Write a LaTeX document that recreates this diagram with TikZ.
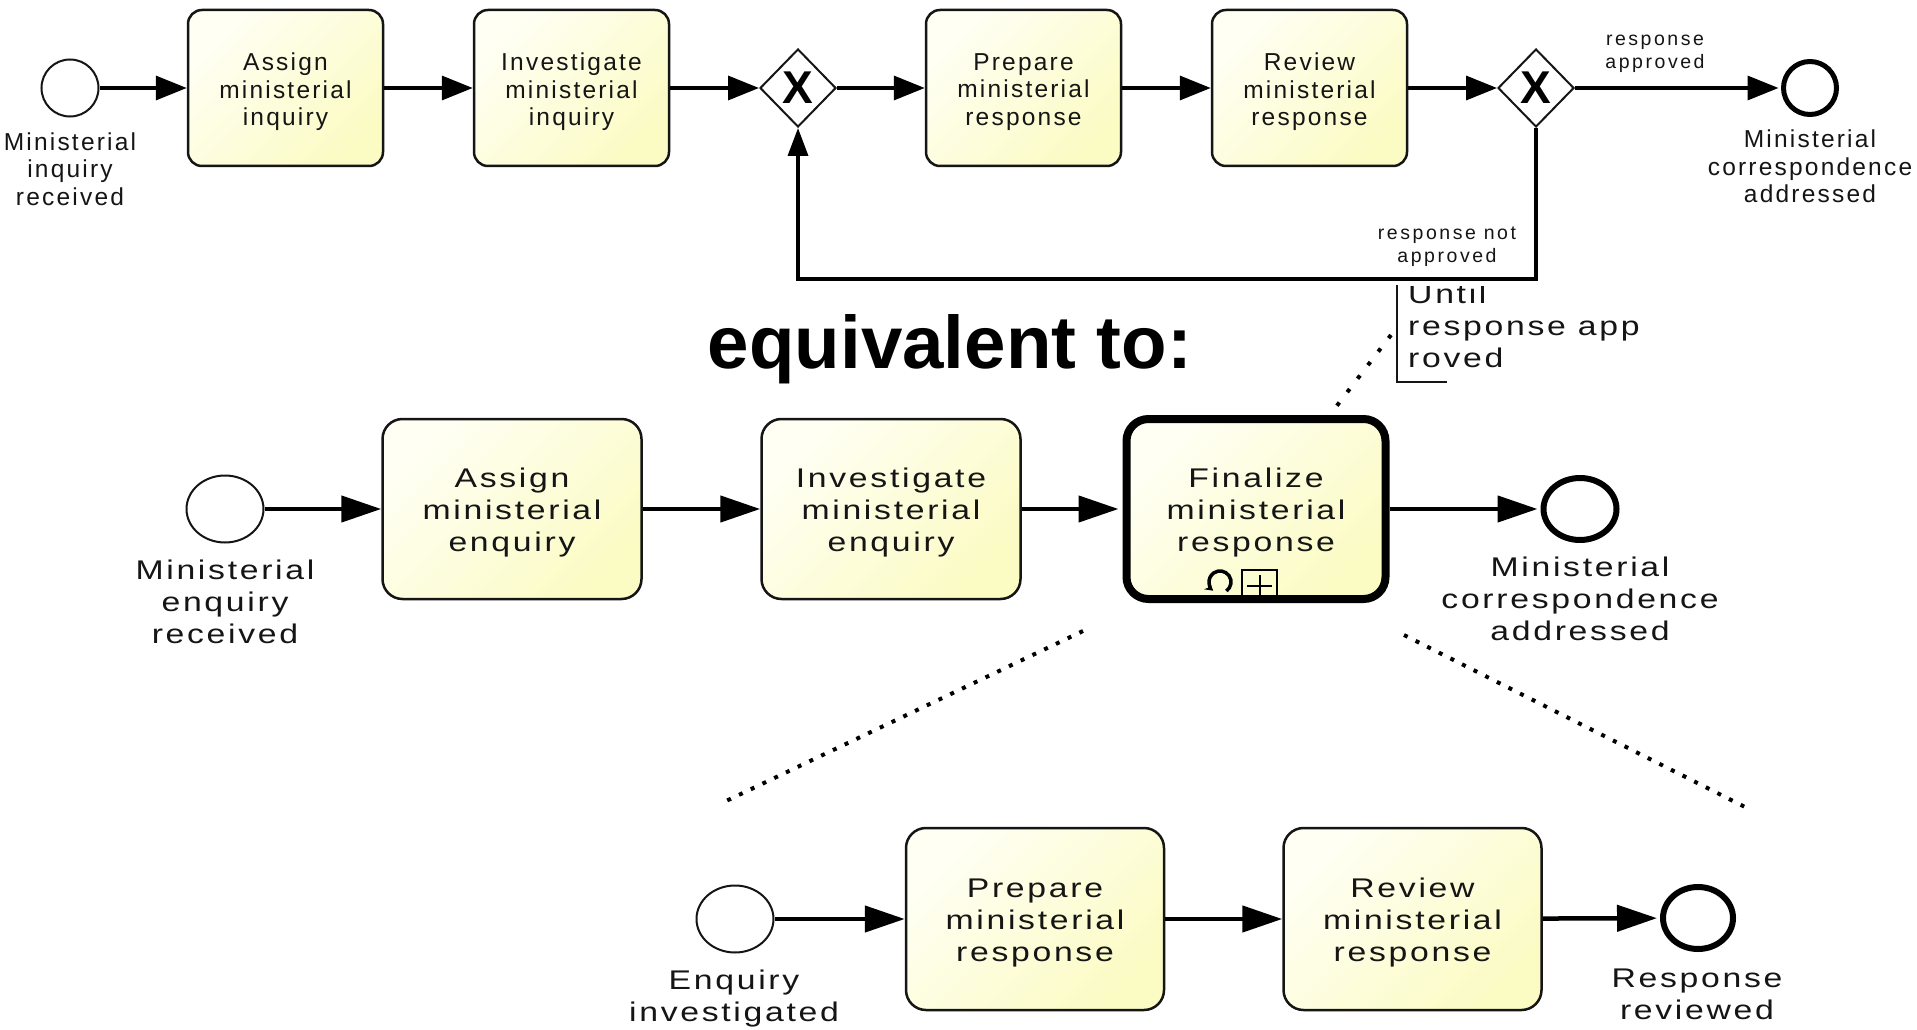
\documentclass[tikz,border=0pt]{standalone}
\usepackage{fontspec}
\setmainfont{Liberation Sans}
\newfontfamily\topfont[LetterSpace=9]{Liberation Sans}
\newfontfamily\midfont[LetterSpace=10,FakeStretch=1.25]{Liberation Sans}
\newfontfamily\smallfont[LetterSpace=13]{Liberation Sans}
\newfontfamily\eqfont{Liberation Sans}
\usetikzlibrary{arrows.meta,shapes.geometric,calc}
\definecolor{taskA}{HTML}{FFFFF4}
\definecolor{taskB}{HTML}{FBFBC4}
\definecolor{ink}{HTML}{151515}
\begin{document}
\begin{tikzpicture}[x=1pt,y=-1pt,
  task/.style={draw=ink, line width=2.5pt, rounded corners=14pt, top color=taskA, bottom color=taskB, shading angle=45, inner sep=0pt},
  toptask/.style={task, minimum width=195pt, minimum height=156pt},
  midtask/.style={task, rounded corners=20pt, minimum width=259pt, minimum height=180pt},
  gateway/.style={diamond, aspect=1, draw=ink, line width=2pt, fill=white, minimum width=76pt, minimum height=78pt, inner sep=0pt, text=black, font=\eqfont\bfseries\fontsize{46pt}{46pt}\selectfont},
  startev/.style={circle, draw=ink, line width=2pt, fill=white, minimum size=57pt, inner sep=0pt},
  endev/.style={circle, draw=black, line width=5pt, fill=white, minimum size=53pt, inner sep=0pt},
  mstart/.style={ellipse, draw=ink, line width=2pt, fill=white, minimum width=77pt, minimum height=67pt, inner sep=0pt},
  mend/.style={ellipse, draw=black, line width=6pt, fill=white, minimum width=73pt, minimum height=62pt, inner sep=0pt},
  toplbl/.style={align=center, inner sep=0pt, text=ink, font=\topfont\fontsize{24.5pt}{27.5pt}\selectfont},
  midlbl/.style={align=center, inner sep=0pt, text=ink, font=\midfont\fontsize{27pt}{32pt}\selectfont},
  smalllbl/.style={align=center, inner sep=0pt, text=ink, font=\smallfont\fontsize{19.5pt}{23pt}\selectfont},
  flowtop/.style={draw=black, line width=3.5pt, -{Triangle[length=31pt,width=24pt]}},
  flowmid/.style={draw=black, line width=4.5pt, -{Triangle[length=40pt,width=26pt]}},
  dotsA/.style={draw=black, line width=4pt, dash pattern=on 4pt off 13pt},
  dotsB/.style={draw=black, line width=4pt, dash pattern=on 4pt off 9pt}
]
\fill[white] (0,0) rectangle (1917,1030);
\useasboundingbox (0,0) rectangle (1917,1030);

% ---------- top row ----------
\node[startev] (s1) at (70,88) {};
\node[toptask] (t1) at (285.5,88) {};
\node[toplbl] (t1x) at (285.5,92) {Assign\\ministerial\\inquiry};
\node[toptask] (t2) at (571.5,88) {};
\node[toplbl] (t2x) at (571.5,92) {Investigate\\ministerial\\inquiry};
\node[gateway] (g1) at (798,88) {X};
\node[toptask] (t3) at (1023.5,88) {};
\node[toplbl] (t3x) at (1023.5,92) {Prepare\\ministerial\\response};
\node[toptask] (t4) at (1309.5,88) {};
\node[toplbl] (t4x) at (1309.5,92) {Review\\ministerial\\response};
\node[gateway] (g2) at (1536,88) {X};
\node[endev] (e1) at (1810,88) {};

\node[toplbl, anchor=north] (s1l) at (70,132.5) {Ministerial\\inquiry\\received};
\node[toplbl, anchor=north] (e1l) at (1810,130) {Ministerial\\correspondence\\addressed};
\node[smalllbl, anchor=north] (yesl) at (1655,35) {response\\approved};
\node[smalllbl, anchor=north] (nol) at (1447,227) {response not\\approved};

\draw[flowtop] (s1) -- (t1);
\draw[flowtop] (t1) -- (t2);
\draw[flowtop] (t2) -- (g1);
\draw[flowtop] (g1) -- (t3);
\draw[flowtop] (t3) -- (t4);
\draw[flowtop] (t4) -- (g2);
\draw[flowtop, shorten >=2.5pt] (g2) -- (e1);
\coordinate (lp) at (1536,279);
\draw[draw=black, line width=3.5pt, -{Triangle[length=28pt,width=20pt]}] (g2.south) -- (lp) -| (g1.south);

% ---------- annotation ----------
\begin{scope}
\clip (1400,286) rectangle (1700,400);
\node[midlbl, align=left, anchor=north west] (ann) at (1408,284) {Until\\response app\\roved};
\end{scope}
\coordinate (brT) at (1397,285);
\coordinate (brB) at (1397,382);
\coordinate (brE) at (1447,382);
\draw[ink, line width=2pt] (brT) -- (brB) -- (brE);

% ---------- equivalent to ----------
\node[font=\eqfont\bfseries\fontsize{74.5pt}{80pt}\selectfont, anchor=base, inner sep=0pt] (eq) at (950,368) {equivalent to:};

% ---------- middle row ----------
\node[mstart] (s2) at (225,509) {};
\node[midtask] (t5) at (512,509) {};
\node[midlbl] (t5x) at (512,513) {Assign\\ministerial\\enquiry};
\node[midtask] (t6) at (891,509) {};
\node[midlbl] (t6x) at (891,513) {Investigate\\ministerial\\enquiry};
\node[midtask, draw=black, line width=8pt, rounded corners=22pt] (fin) at (1256,509) {};
\node[midlbl] (finx) at (1256,513) {Finalize\\ministerial\\response};
\node[mend] (e2) at (1580,509) {};
\node[midlbl, anchor=north] (s2l) at (225,560) {Ministerial\\enquiry\\received};
\node[midlbl, anchor=north] (e2l) at (1580,557) {Ministerial\\correspondence\\addressed};

\draw[flowmid] (s2) -- (t5);
\draw[flowmid] (t5) -- (t6);
\draw[flowmid, shorten >=4pt] (t6) -- (fin);
\draw[flowmid, shorten >=3pt] (fin) -- (e2);

% markers of the subprocess
\begin{scope}[shift={(fin.south)}]
\draw[black, line width=2pt] (-14,-33) rectangle (21,-2);
\draw[black, line width=2pt] (3.5,-28) -- (3.5,-6) (-9,-17.5) -- (16,-17.5);
\draw[black, line width=3.5pt, -{Stealth[length=8pt,width=9pt]}] ($(-36,-21)+(-55:11pt)$) arc[start angle=-55, end angle=232, radius=11pt];
\end{scope}

% ---------- dotted links ----------
\coordinate (annP) at (1391,335);
\coordinate (finP) at (1329,416);
\draw[dotsA] (annP) -- (finP);
\coordinate (dl1) at (1083,631);
\coordinate (dl2) at (724,802);
\coordinate (dr1) at (1404,635);
\coordinate (dr2) at (1745,807);
\draw[dotsB] (dl1) -- (dl2);
\draw[dotsB] (dr1) -- (dr2);

% ---------- bottom row ----------
\node[mstart] (s3) at (735,919) {};
\node[midtask, minimum width=258pt, minimum height=182pt] (t7) at (1035,919) {};
\node[midlbl] (t7x) at (1035,923) {Prepare\\ministerial\\response};
\node[midtask, minimum width=258pt, minimum height=182pt] (t8) at (1412.5,919) {};
\node[midlbl] (t8x) at (1412.5,923) {Review\\ministerial\\response};
\node[mend, minimum width=70pt] (e3) at (1698,918) {};
\node[midlbl, anchor=north] (s3l) at (734,970) {Enquiry\\investigated};
\node[midlbl, anchor=north] (e3l) at (1697,969) {Response\\reviewed};

\draw[flowmid] (s3) -- (t7);
\draw[flowmid] (t7) -- (t8);
\draw[flowmid, shorten >=3pt] (t8) -- (e3);
\end{tikzpicture}
\end{document}
